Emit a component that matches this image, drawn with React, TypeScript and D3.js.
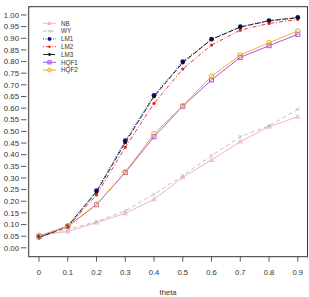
import React from 'react';
import * as d3 from 'd3';

// power curves by theta
const thetas = [0, 0.1, 0.2, 0.3, 0.4, 0.5, 0.6, 0.7, 0.8, 0.9];
const nb = [0.055, 0.07, 0.108, 0.148, 0.208, 0.303, 0.377, 0.456, 0.52, 0.563];
const wy = [0.05, 0.079, 0.112, 0.159, 0.23, 0.31, 0.396, 0.477, 0.524, 0.595];
const lm1 = [0.046, 0.094, 0.245, 0.46, 0.655, 0.8, 0.896, 0.95, 0.976, 0.99];
const lm2 = [0.045, 0.09, 0.227, 0.432, 0.62, 0.768, 0.871, 0.935, 0.964, 0.981];
const lm3 = [0.043, 0.093, 0.24, 0.452, 0.65, 0.795, 0.895, 0.948, 0.975, 0.988];
const hqf1 = [0.05, 0.092, 0.185, 0.323, 0.477, 0.608, 0.721, 0.818, 0.868, 0.917];
const hqf2 = [0.05, 0.093, 0.187, 0.326, 0.49, 0.61, 0.737, 0.828, 0.881, 0.931];

const xTicks = [0, 0.1, 0.2, 0.3, 0.4, 0.5, 0.6, 0.7, 0.8, 0.9];
const yTicks = d3.range(0, 21).map(i => i * 0.05);

type Marker = 'triangle' | 'cross' | 'dot' | 'square' | 'circle';

const series = [
  { name: 'NB', values: nb, color: '#f4a6bd', dash: '', marker: 'triangle' as Marker, r: 2.0 },
  { name: 'WY', values: wy, color: '#b8b8b8', dash: '4,3', marker: 'cross' as Marker, r: 1.6 },
  { name: 'LM1', values: lm1, color: '#10109a', dash: '1,1.5', marker: 'dot' as Marker, r: 2.4 },
  { name: 'LM2', values: lm2, color: '#ee1c1c', dash: '1,2,4,2', marker: 'dot' as Marker, r: 1.6 },
  { name: 'LM3', values: lm3, color: '#111111', dash: '5,2', marker: 'dot' as Marker, r: 1.8 },
  { name: 'HQF1', values: hqf1, color: '#a040e8', dash: '', marker: 'square' as Marker, r: 2.0 },
  { name: 'HQF2', values: hqf2, color: '#f5a623', dash: '', marker: 'circle' as Marker, r: 2.3 },
];

const W = 309;
const H = 297;
const box = { left: 28.7, right: 307.5, top: 6.7, bottom: 256.7 };

const x = d3.scaleLinear().domain([0, 0.9]).range([39, 297.8]);
const y = d3.scaleLinear().domain([0, 1]).range([247.8, 15]);

const font = 'Liberation Sans, Arial, sans-serif';
const textColor = '#333';

function drawMarker(m: Marker, cx: number, cy: number, r: number, color: string, key: string) {
  switch (m) {
    case 'triangle': {
      const p = `M${cx},${cy - r * 1.1}L${cx + r},${cy + r * 0.7}L${cx - r},${cy + r * 0.7}Z`;
      return <path key={key} d={p} fill="none" stroke={color} strokeWidth={0.9} />;
    }
    case 'cross':
      return (
        <path key={key} d={`M${cx - r},${cy - r}L${cx + r},${cy + r}M${cx - r},${cy + r}L${cx + r},${cy - r}`}
          stroke={color} strokeWidth={0.9} />
      );
    case 'dot':
      return <circle key={key} cx={cx} cy={cy} r={r} fill={color} />;
    case 'square':
      return <rect key={key} x={cx - r} y={cy - r} width={r * 2} height={r * 2} fill="none" stroke={color} strokeWidth={0.9} />;
    case 'circle':
      return <circle key={key} cx={cx} cy={cy} r={r} fill="none" stroke={color} strokeWidth={1} />;
  }
}

const line = d3.line<number>()
  .x((_, i) => x(thetas[i]))
  .y(d => y(d));

export default function App() {
  return (
    <div style={{ position: 'fixed', left: 0, top: 0, width: W, height: H, background: '#fff' }}>
      <svg width={W} height={H} style={{ display: 'block' }}>
        <rect width={W} height={H} fill="#fff" />

        {/* curves */}
        {series.map(s => (
          <g key={s.name}>
            <path d={line(s.values) || ''} fill="none" stroke={s.color} strokeWidth={0.9}
              strokeDasharray={s.dash || undefined} />
            {s.values.map((v, i) => drawMarker(s.marker, x(thetas[i]), y(v), s.r, s.color, `${s.name}-${i}`))}
          </g>
        ))}

        {/* frame */}
        <rect x={box.left} y={box.top} width={box.right - box.left} height={box.bottom - box.top}
          fill="none" stroke="#333" strokeWidth={1} />

        {/* y axis */}
        {yTicks.map(t => (
          <g key={`y${t}`}>
            <line x1={21} x2={26.5} y1={y(t)} y2={y(t)} stroke="#333" strokeWidth={0.8} />
            <text x={19} y={y(t)} dy="0.35em" textAnchor="end" fontSize={7.8} fontFamily={font} fill={textColor}>
              {d3.format('.2f')(t)}
            </text>
          </g>
        ))}

        {/* x axis */}
        {xTicks.map(t => (
          <g key={`x${t}`}>
            <line x1={x(t)} x2={x(t)} y1={box.bottom} y2={box.bottom + 5} stroke="#333" strokeWidth={0.8} />
            <text x={x(t)} y={274.5} textAnchor="middle" fontSize={7.7} fontFamily={font} fill={textColor}>
              {t === 0 ? '0' : String(t)}
            </text>
          </g>
        ))}
        <text x={(box.left + box.right) / 2} y={294.5} textAnchor="middle" fontSize={7.7} fontFamily={font} fill={textColor}>
          theta
        </text>

        {/* legend */}
        {series.map((s, i) => {
          const ly = 23.3 + i * 7.8;
          return (
            <g key={`leg-${s.name}`}>
              <line x1={43} x2={56} y1={ly} y2={ly} stroke={s.color} strokeWidth={0.9}
                strokeDasharray={s.dash || undefined} />
              {drawMarker(s.marker, 49.5, ly, s.r * 0.8, s.color, `leg-m-${s.name}`)}
              <text x={61} y={ly} dy="0.35em" fontSize={6.3} fontFamily={font} fill={textColor}>{s.name}</text>
            </g>
          );
        })}
      </svg>
    </div>
  );
}
